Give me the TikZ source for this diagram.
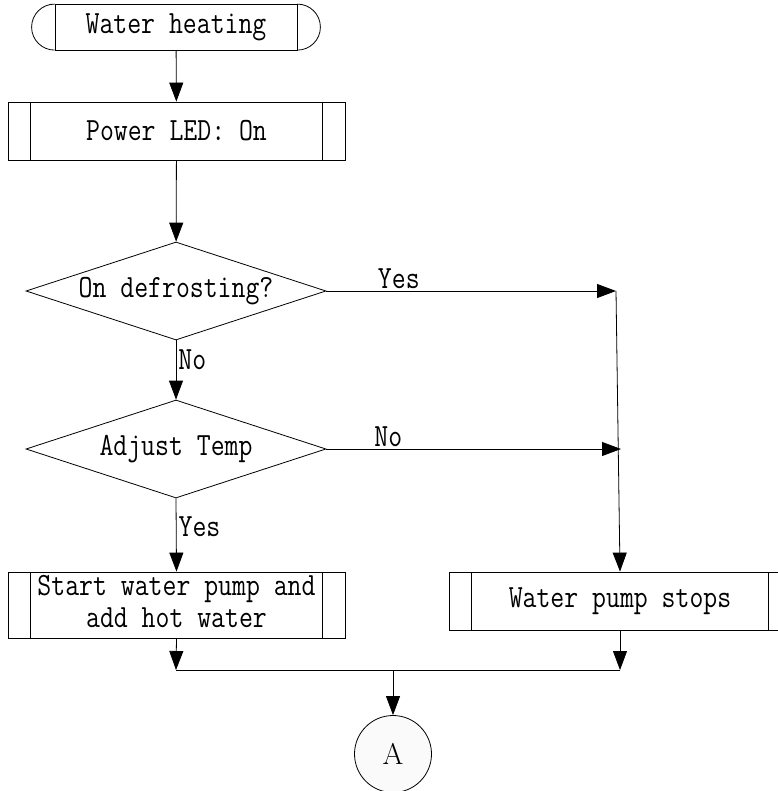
\documentclass[tikz,border=0pt]{standalone}
\usepackage{graphicx}
\usetikzlibrary{arrows.meta,shapes.geometric}
\newcommand\tx[1]{\scalebox{1}[1.2]{#1}}
\tikzset{
  base/.style={font=\ttfamily\fontsize{27}{32}\selectfont, inner sep=0pt},
  procbox/.style={base, draw, rectangle, minimum width=337pt, minimum height=58pt,
    path picture={\draw[line width=0.8pt] ([xshift=22.5pt]path picture bounding box.north west) -- ([xshift=22.5pt]path picture bounding box.south west);
                  \draw[line width=0.8pt] ([xshift=-22.5pt]path picture bounding box.north east) -- ([xshift=-22.5pt]path picture bounding box.south east);}},
  decision/.style={base, draw, diamond, aspect=3, minimum width=300pt, minimum height=98pt},
  termbox/.style={base, draw, rectangle, minimum width=242pt, minimum height=46pt},
  conn/.style={draw, circle, fill=black!2, inner sep=0pt, minimum size=77pt},
  lbl/.style={base, inner sep=2pt},
  flow/.style={-{Triangle[length=19pt,width=14pt]}}
}
\begin{document}
\begin{tikzpicture}[x=1pt,y=-1pt,line width=0.8pt]
\useasboundingbox[fill=white] (0,0) rectangle (777,791);
\node[termbox] (t) at (176,27.5) {\tx{Water heating}};
\draw (t.north west) arc[start angle=90,end angle=270,radius=23pt];
\draw (t.north east) arc[start angle=90,end angle=-90,radius=23pt];
\node[procbox] (p1) at (176.5,131) {\tx{Power LED: On}};
\node[decision] (d1) at (176,291) {\tx{On defrosting?}};
\node[decision] (d2) at (176,449) {\tx{Adjust Temp}};
\node[procbox, minimum height=66pt] (p2) at (176.5,605) {\tx{\renewcommand\arraystretch{0.83}\begin{tabular}{@{}c@{}}Start water pump and\\add hot water\end{tabular}}};
\node[procbox, minimum width=342pt] (p3) at (620,601) {\tx{Water pump stops}};
\node[conn] (A) at (393,754) {\fontsize{30}{34}\selectfont\rmfamily A};
\coordinate (j1) at (616,291);
\coordinate (j2) at (621,449);
\coordinate (m1) at (176,670);
\coordinate (m2) at (620,670);
\coordinate (m3) at (393,670);
\draw[flow] (t) -- (p1);
\draw[flow] (p1) -- (d1);
\draw[flow] (d1.east) -- node[lbl, above, pos=0.25] {\tx{Yes}} (j1);
\draw[flow] (d1.south) -- node[lbl, right, pos=0.33] {\tx{No}} (d2.north);
\draw[flow] (d2.east) -- node[lbl, above, pos=0.21] {\tx{No}} (j2);
\draw[flow] (j1) -- (p3.north);
\draw[flow] (d2.south) -- node[lbl, right, pos=0.39] {\tx{Yes}} (p2.north);
\draw[flow] (p2.south) -- (m1);
\draw[flow] (p3.south) -- (m2);
\draw (m1) -- (m2);
\draw[flow] (m3) -- (A);
\end{tikzpicture}
\end{document}
